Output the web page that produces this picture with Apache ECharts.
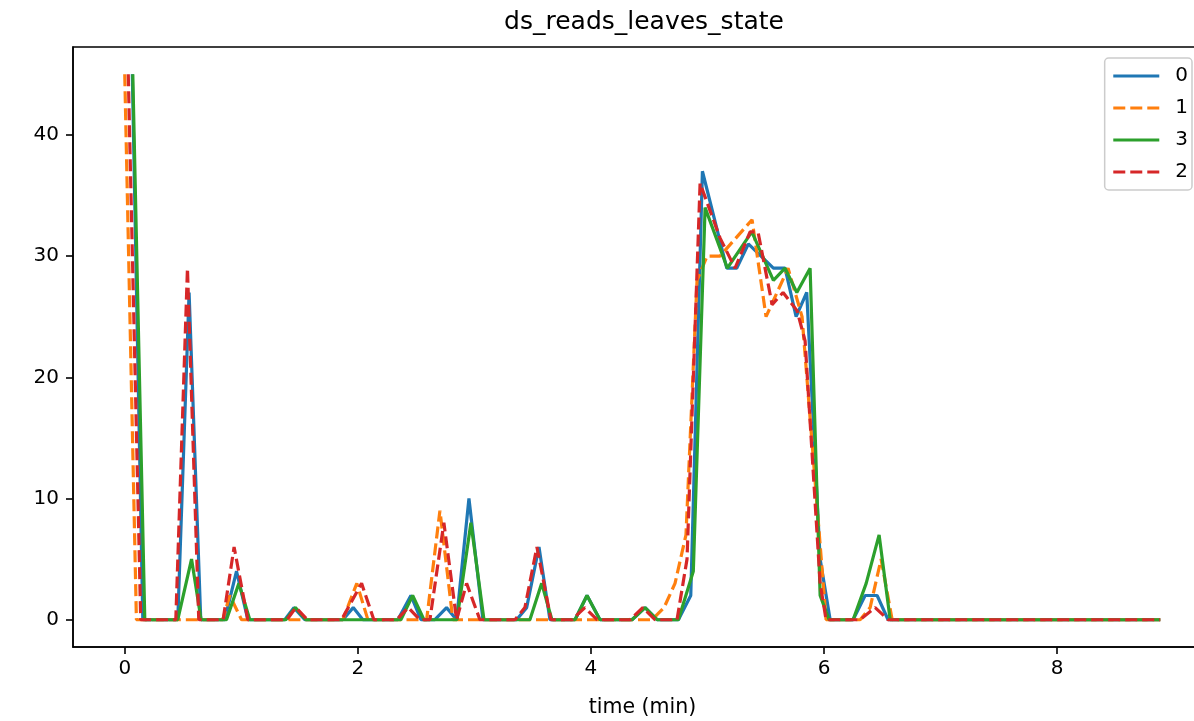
<!DOCTYPE html>
<html>
<head>
<meta charset="utf-8">
<script src="https://cdn.jsdelivr.net/npm/echarts@6/dist/echarts.min.js"></script>
<style>
html,body{margin:0;padding:0;background:#fff;}
#chart{width:1194px;height:721px;}
</style>
</head>
<body>
<div id="chart"></div>
<script>
// Series "0" (blue)
const t0 = [0.065,0.155,0.455,0.552,0.652,0.858,0.959,1.056,1.373,1.451,1.545,1.871,1.960,2.043,2.343,2.455,2.541,2.661,2.761,2.847,2.953,3.073,3.362,3.448,3.554,3.648,3.863,3.966,4.077,4.352,4.464,4.567,4.750,4.856,4.956,5.165,5.250,5.350,5.565,5.665,5.760,5.851,5.966,6.052,6.249,6.352,6.455,6.549,8.884];
const v0 = [45,0,0,27,0,0,4,0,0,1,0,0,1,0,0,2,0,0,1,0,10,0,0,1,6,0,0,2,0,0,1,0,0,2,37,29,29,31,29,29,25,27,5,0,0,2,2,0,0];
// Series "1" (orange, dashed)
const t1 = [0.000,0.100,0.841,0.901,1.002,1.871,1.991,2.086,2.590,2.704,2.815,4.524,4.627,4.721,4.815,4.910,4.996,5.107,5.382,5.502,5.691,5.811,6.017,6.309,6.395,6.489,6.584,8.884];
const v1 = [45,0,0,2,0,0,3,0,0,9,0,0,1,3,7,28,30,30,33,25,29,25,0,0,1,5,0,0];
// Series "3" (green)
const t3 = [0.069,0.172,0.455,0.573,0.655,0.873,0.979,1.073,1.382,1.464,1.554,2.369,2.470,2.567,2.850,2.970,3.082,3.476,3.577,3.665,3.863,3.966,4.077,4.352,4.464,4.567,4.750,4.878,4.979,5.170,5.380,5.565,5.665,5.766,5.880,5.966,6.043,6.249,6.361,6.472,6.567,8.884];
const v3 = [45,0,0,5,0,0,3,0,0,1,0,0,2,0,0,8,0,0,3,0,0,2,0,0,1,0,0,4,34,29,32,28,29,27,29,2,0,0,3,7,0,0];
// Series "2" (red, dashed)
const t2 = [0.030,0.137,0.438,0.538,0.635,0.844,0.938,1.056,1.391,1.468,1.567,1.860,2.032,2.137,2.332,2.432,2.532,2.618,2.738,2.847,2.933,3.047,3.348,3.433,3.536,3.657,3.837,3.948,4.052,4.335,4.444,4.549,4.738,4.824,4.936,5.107,5.236,5.365,5.433,5.554,5.648,5.768,5.837,5.966,6.017,6.309,6.438,6.549,8.884];
const v2 = [45,0,0,29,0,0,6,0,0,1,0,0,3,0,0,1,0,0,8,0,3,0,0,1,6,0,0,1,0,0,1,0,0,5,36,31.5,29,32,32,26,27,25.5,23,3,0,0,1,0,0];

const seriesNames = ['0','1','3','2'];
const xTicks = [0,2,4,6,8];
const yTicks = [0,10,20,30,40];
const titleText = 'ds_reads_leaves_state';
const xLabel = 'time (min)';

const zip = (t, v) => t.map((x, i) => [x, v[i]]);
const FONT = 'DejaVu Sans';
const DASH = [12, 5];
const LW = 3.2;
const AXIS_LINE = {show: true, onZero: false, lineStyle: {color: '#000', width: 1.5}};

const chart = echarts.init(document.getElementById('chart'), null, {renderer: 'canvas'});
chart.setOption({
  animation: false,
  backgroundColor: '#ffffff',
  title: {
    text: titleText,
    left: 644, top: 10, padding: 0,
    textAlign: 'center',
    textStyle: {fontFamily: FONT, fontSize: 25, fontWeight: 'normal', color: '#000'}
  },
  grid: {
    left: 73, top: 47, width: 1139, height: 600,
    outerBoundsMode: 'none', containLabel: false,
    show: true, borderColor: '#000', borderWidth: 1.5, backgroundColor: 'transparent'
  },
  legend: {
    orient: 'vertical', right: 2, top: 58,
    padding: [7, 4, 7, 7],
    itemWidth: 46, itemHeight: 14, itemGap: 10,
    backgroundColor: 'rgba(255,255,255,0.8)',
    borderColor: '#cccccc', borderWidth: 1.5, borderRadius: 4,
    data: seriesNames,
    itemStyle: {opacity: 0},
    lineStyle: {width: LW},
    textStyle: {fontFamily: FONT, fontSize: 20, color: '#000', lineHeight: 22, padding: [0, 0, 0, 11]}
  },
  xAxis: {
    type: 'value', min: -0.444, max: 9.328,
    axisLine: AXIS_LINE,
    splitLine: {show: false},
    axisTick: {show: true, inside: false, customValues: xTicks, length: 7, lineStyle: {color: '#000', width: 1.6}},
    axisLabel: {customValues: xTicks, color: '#000', fontFamily: FONT, fontSize: 20, margin: 12},
    name: xLabel, nameLocation: 'middle', nameGap: 50,
    nameTextStyle: {fontFamily: FONT, fontSize: 20.5, color: '#000'}
  },
  yAxis: {
    type: 'value', min: -2.25, max: 47.25,
    axisLine: AXIS_LINE,
    splitLine: {show: false},
    axisTick: {show: true, inside: false, customValues: yTicks, length: 7, lineStyle: {color: '#000', width: 1.6}},
    axisLabel: {customValues: yTicks, color: '#000', fontFamily: FONT, fontSize: 20, margin: 14}
  },
  series: [
    {name: '0', type: 'line', data: zip(t0, v0), showSymbol: false, symbol: 'none',
     lineStyle: {color: '#1f77b4', width: LW}, itemStyle: {color: '#1f77b4'}},
    {name: '1', type: 'line', data: zip(t1, v1), showSymbol: false, symbol: 'none',
     lineStyle: {color: '#ff7f0e', width: LW, type: DASH}, itemStyle: {color: '#ff7f0e'}},
    {name: '3', type: 'line', data: zip(t3, v3), showSymbol: false, symbol: 'none',
     lineStyle: {color: '#2ca02c', width: LW}, itemStyle: {color: '#2ca02c'}},
    {name: '2', type: 'line', data: zip(t2, v2), showSymbol: false, symbol: 'none',
     lineStyle: {color: '#d62728', width: LW, type: DASH}, itemStyle: {color: '#d62728'}}
  ]
});
</script>
</body>
</html>
